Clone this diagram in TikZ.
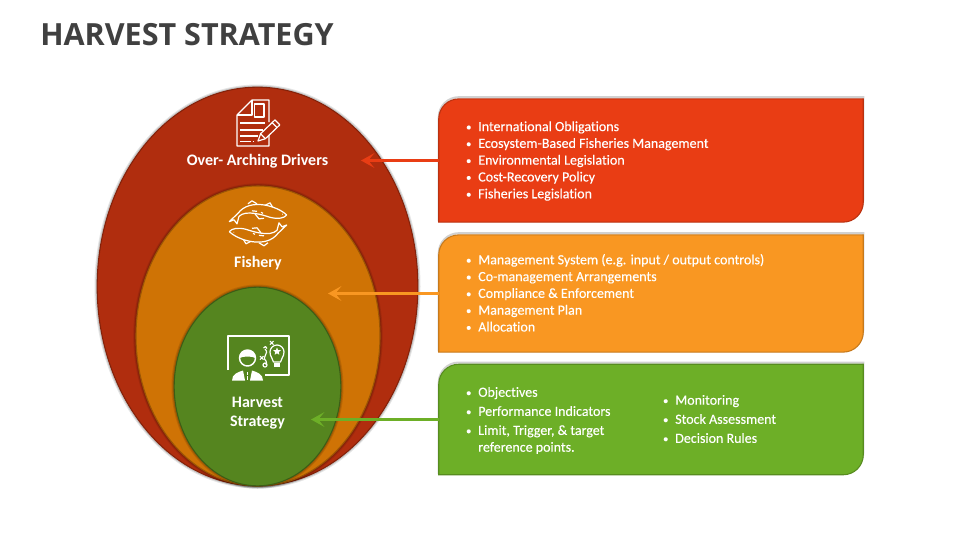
\documentclass[tikz,border=0pt]{standalone}
\usepackage{fontspec}
\setmainfont[Ligatures=CommonOff]{Carlito}
\newfontfamily\listfont[Ligatures=CommonOff,FakeBold=0.25]{Carlito}
\newfontfamily\titlefont{Open Sans}
\usetikzlibrary{arrows.meta,shapes.geometric}
\definecolor{driverdark}{HTML}{B02D0E}
\definecolor{fisherydark}{HTML}{CF7305}
\definecolor{harvestdark}{HTML}{55851F}
\definecolor{driverbox}{HTML}{E93D14}
\definecolor{fisherybox}{HTML}{F99722}
\definecolor{harvestbox}{HTML}{6DAF27}
\newcommand{\bul}{\makebox[9.75pt][l]{\hspace*{.6pt}\fontsize{8}{8}\selectfont\raisebox{.4pt}{\textbullet}}}
\tikzset{
  oval/.style={ellipse,inner sep=0pt,line width=.8pt,
    preaction={draw=black,opacity=.10,line width=4pt},
    preaction={draw=black,opacity=.15,line width=2.4pt}},
  boxarea/.style={minimum width=318pt,inner sep=0pt},
  listtext/.style={anchor=west,inner sep=0pt,align=left,text=white,
    font=\listfont\fontsize{10.5}{12.6}\selectfont},
  ovaltext/.style={inner sep=0pt,align=center,text=white,
    font=\fontsize{12}{14.2}\selectfont\bfseries},
  tiedarrow/.style={line width=1.6pt,-{Stealth[length=10pt,width=11pt,inset=4.5pt]}},
  icon/.style={draw=white,line width=.9pt,line join=round}
}
\begin{document}
\begin{tikzpicture}[x=0.75pt,y=-0.75pt]
  \useasboundingbox (0,0) rectangle (960,540);
  \node[anchor=west,inner sep=0pt,text=black!75,font=\titlefont\fontsize{22.9}{28}\selectfont\bfseries] (title) at (40,35) {HARVEST STRATEGY};

  \node[oval,fill=driverdark,draw=driverdark!75!black,minimum width=240.5pt,minimum height=299pt] (drivers) at (257.5,286.5) {};
  \node[oval,fill=fisherydark,draw=fisherydark!75!black,minimum width=183pt,minimum height=225pt] (fishery) at (258,336) {};
  \node[oval,fill=harvestdark,draw=harvestdark!70!black,minimum width=125pt,minimum height=149pt] (harvest) at (257.5,386.5) {};

  \node[boxarea,minimum height=92pt] (driverarea) at (651,160.5) {};
  \node[boxarea,minimum height=87.5pt] (fisheryarea) at (651,293.5) {};
  \node[boxarea,minimum height=82.5pt] (harvestarea) at (651,419.5) {};
  \foreach \n/\c in {driverarea/driverbox, fisheryarea/fisherybox, harvestarea/harvestbox}
  \draw[fill=\c,draw=\c!80!black,line width=.8pt,
    preaction={draw=black,opacity=.18,line width=1.5pt,transform canvas={yshift=1.3pt}}]
    (\n.west) [rounded corners=15pt] -- (\n.north west) [sharp corners] -- (\n.north east) -- (\n.east)
    [rounded corners=15pt] -- (\n.south east) [sharp corners] -- (\n.south west) -- cycle;

  \coordinate (drivertip) at (361,160.5);
  \coordinate (fisherytip) at (328,293.5);
  \coordinate (harvesttip) at (311,419.5);
  \draw[tiedarrow,driverbox] (driverarea.west) -- (drivertip);
  \draw[tiedarrow,fisherybox] (fisheryarea.west) -- (fisherytip);
  \draw[tiedarrow,harvestbox] (harvestarea.west) -- (harvesttip);

  \node[listtext] (driverlist) at (465,161) {\bul International Obligations\\\bul Ecosystem-Based Fisheries Management\\\bul Environmental Legislation\\\bul Cost-Recovery Policy\\\bul Fisheries Legislation};
  \node[listtext] (fisherylist) at (465,292.8) {\bul Management System (e.g. input / output controls)\\\bul Co-management Arrangements\\\bul Compliance \& Enforcement\\\bul Management Plan\\\bul Allocation};
  \node[listtext] (harvestlist) at (465,420.5) {\bul Objectives\\[1.7pt]\bul Performance Indicators\\[1.7pt]\bul Limit, Trigger, \& target\\\hspace*{9.75pt}reference points.};
  \node[listtext] (harvestlistb) at (662,419) {\bul Monitoring\\[1.7pt]\bul Stock Assessment\\[1.7pt]\bul Decision Rules};

  \node[ovaltext] (driverlabel) at (257.5,161.5) {Over- Arching Drivers};
  \node[ovaltext] (fisherylabel) at (258,263.5) {Fishery};
  \node[ovaltext] (harvestlabel) at (257.5,413.5) {Harvest\\Strategy};

  \draw[icon] (269,122) -- (269,100) -- (252,100) -- (237,115) -- (237,146) -- (269,146) -- (269,135);
  \draw[icon] (252,100) -- (252,115) -- (237,115);
  \draw[icon] (254.5,104) rectangle (264,117);
  \foreach \y/\e in {123/265, 130/263, 136/258}
  \draw[icon] (240,\y) -- (\e,\y);
  \draw[icon,dash pattern=on 8pt off 1.5pt] (240,141.7) -- (253,141.7);
  \draw[icon,fill=driverdark] (258,141) -- (260.6,133.7) -- (275,119.9) -- (279.8,124.9) -- (265.4,138.7) -- cycle;
  \draw[icon] (272.2,122.6) -- (277,127.6) (260.6,133.7) -- (265.4,138.7);

  \foreach \r in {0,180} {
    \begin{scope}[shift={(258,223.3)},rotate=\r]
      \draw[icon] (-10,-19.5) -- (-6,-22.5) -- (-1,-19.5);
      \draw[icon] (7,-18) -- (12,-20.5) -- (15,-15.5);
      \draw[icon] (-3,-9.5) -- (1,-4.5) -- (6,-5);
      \draw[icon,fill=fisherydark] (28.7,-8.3) .. controls (20,-17) and (-8,-26) .. (-20,-10)
        -- (-28.7,-1.7) -- (-24,-3.5) -- (-21,0.5) -- (-19,-7)
        .. controls (-12,-14) and (6,-8) .. (12,-6) .. controls (20,-4) and (26,-5) .. (28.7,-8.3);
      \draw[icon] (-6,-12.5) -- (-1,-12) (3,-11) -- (5,-10) (24,-9) -- (24.5,-9);
    \end{scope}
  }

  \draw[icon,line width=1.5pt] (227.5,370) -- (227.5,335.5) -- (288.5,335.5) -- (288.5,374.5) -- (265,374.5);
  \draw[icon,line width=1.1pt] (247.5,358) circle (8);
  \fill[white] (239.5,358) arc[start angle=180,end angle=360,x radius=8,y radius=8] .. controls (252,356) and (243,356) .. cycle;
  \fill[white] (232,380.5) .. controls (232,374) and (238,372) .. (243,370.5) -- (245,380.5) -- cycle;
  \fill[white] (263,380.5) .. controls (263,374) and (257,372) .. (252,370.5) -- (250,380.5) -- cycle;
  \draw[icon,dash pattern=on 2.5pt off .8pt,line width=1.2pt] (247.5,372) -- (247.5,380.5);
  \draw[icon] (265,349) .. controls (270,354) and (261,356) .. (266,361) .. controls (268,363) and (266,364) .. (265,364);
  \draw[icon] (265,365) circle (2);
  \draw[icon] (263.5,348) -- (265.5,346.5) -- (267,348.5);
  \draw[icon,line width=.8pt] (270,341) -- (273.5,344.5) (273.5,341) -- (270,344.5);
  \draw[icon,line width=.8pt] (260,356.2) -- (263.5,359.7) (263.5,356.2) -- (260,359.7);
  \draw[icon] (273.5,362) .. controls (273,358) and (270,357) .. (270,352) arc[start angle=180,end angle=360,x radius=7,y radius=7] .. controls (284,357) and (281,358) .. (280.5,362) -- cycle;
  \fill[white] (274,363) rectangle (280,366.5);
  \node[star,star points=5,star point ratio=2.2,fill=white,minimum size=6pt,inner sep=0pt] (bulbstar) at (277,351.5) {};
\end{tikzpicture}
\end{document}
